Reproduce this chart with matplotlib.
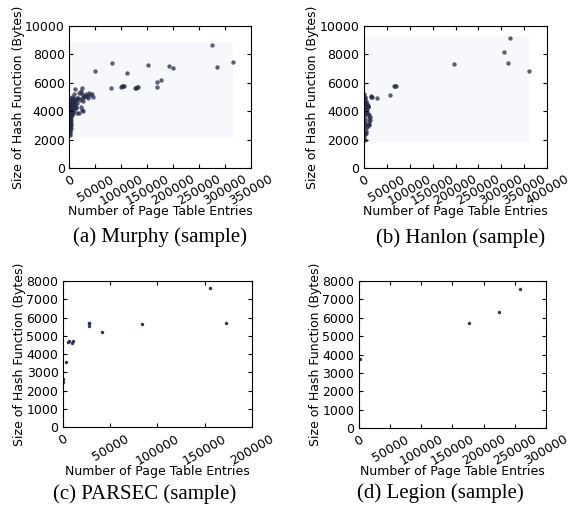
import matplotlib
matplotlib.use('Agg')
import matplotlib.pyplot as plt
import numpy as np
from matplotlib.colors import LinearSegmentedColormap

# Murphy (sample): page table entries vs hash function size
murphy_x = [275000, 285000, 315000, 152000, 192000, 200000, 169000, 176000, 169000, 110000,
            82000, 50000, 80000, 100000, 102000, 104000, 106000, 126000, 129000, 131000, 133000,
            10500, 24000, 23000, 22000, 26000, 25000, 28000, 30000, 32000, 34000, 38000, 40000,
            44000, 46000, 36000, 27000, 22000, 24000, 26000, 18000, 14000, 12000, 16000, 18000,
            20000, 8000, 9000,
            500, 800, 1000, 1200, 1500, 1800, 2000, 2200, 2500, 2800, 3000, 3200, 3500, 600,
            900, 1300, 1600, 1900, 2100, 2400, 2700, 3800, 4200, 4600, 5000, 5500, 6000, 6500,
            7000, 7500, 8000, 4000, 4500, 5200, 3000, 3500, 2500, 700, 1100, 400, 300, 200,
            1400, 6800, 9000, 4800, 3600, 2000, 5800, 7200,
            10000, 11000, 12500, 14000, 15000, 9500, 11500, 13000]
murphy_y = [8650, 7100, 7500, 7220, 7180, 7050, 6080, 6220, 5700, 6710,
            7400, 6850, 5650, 5700, 5750, 5800, 5800, 5650, 5650, 5680, 5700,
            5550, 5600, 5400, 5250, 5150, 4900, 5000, 5100, 5200, 5050, 5250, 5150,
            5200, 5000, 4900, 4700, 4300, 4100, 4000, 3900, 3850, 4250, 4900, 5300,
            4800, 5200, 4950,
            2300, 2600, 2900, 3100, 3300, 3500, 3700, 3900, 4100, 4300, 4500, 4700, 4900, 3000,
            3400, 3800, 4000, 4200, 4400, 4600, 4800, 4200, 4400, 4600, 4300, 4500, 4700, 4400,
            4600, 4800, 4500, 3800, 4000, 3900, 3400, 3600, 3000, 2500, 2700, 3500, 4000, 2800,
            4500, 4200, 4300, 5000, 3200, 2800, 3700, 3900,
            4700, 4500, 4800, 4600, 4900, 4100, 4400, 4300]

# Hanlon (sample)
hanlon_x = [319000, 306000, 315000, 361000, 197000, 66000, 68000, 70000, 57000, 18000,
            16000, 14500, 28000,
            1000, 1500, 2000, 1200, 1800, 2200, 1000, 1500, 2000, 2500, 800, 3000, 4000,
            5000, 6000, 7000, 8000, 9000, 4000, 3500, 6000, 8000, 10000, 11000, 11500, 11000,
            10000, 12000, 8000, 6000, 3000, 3500, 2500, 500, 600, 9000, 7000, 12000, 4000, 2000]
hanlon_y = [9170, 8160, 7390, 6850, 7320, 5790, 5800, 5790, 5160, 5000,
            5050, 4980, 4930,
            2200, 2500, 2800, 3100, 3400, 3700, 4000, 4300, 4600, 4900, 5200, 5000, 4700,
            4600, 4500, 4450, 4400, 4400, 4200, 3900, 3900, 3800, 3700, 3500, 3300, 3100,
            3000, 3600, 3000, 2900, 3200, 2600, 2400, 3500, 4800, 4300, 4100, 3400, 2500, 2000]

# PARSEC (sample)
parsec_x = [156000, 172800, 83600, 41100, 27300, 27300, 27300, 5300, 8800, 10400, 6400, 2500, 0, 0]
parsec_y = [7630, 5720, 5670, 5190, 5690, 5550, 5730, 4650, 4600, 4700, 4720, 3550, 2640, 2500]

# Legion (sample)
legion_x = [258000, 225000, 176000, 1600]
legion_y = [7570, 6300, 5710, 3750]

fig = plt.figure(figsize=(5.71, 5.16), dpi=100)
plt.rcParams['font.family'] = 'DejaVu Sans'

# faint density backdrop, practically uniform over the data extent
bg = LinearSegmentedColormap.from_list('bg', ['#f6f8fb', '#eef1f7'])


def style(ax, xmax, ymax, ystep):
    ax.set_xlim(0, xmax)
    ax.set_ylim(0, ymax)
    ax.set_xticks(np.arange(0, xmax + 1, 50000))
    ax.set_yticks(np.arange(0, ymax + 1, ystep))
    ax.tick_params(direction='in', top=True, right=True, labelsize=9, length=3)
    for lbl in ax.get_xticklabels():
        lbl.set_rotation(30)
        lbl.set_ha('center')
    ax.set_xlabel('Number of Page Table Entries', fontsize=9, labelpad=-2)
    ax.set_ylabel('Size of Hash Function (Bytes)', fontsize=9, labelpad=0)


def backdrop(ax, x, y):
    lo_y = min(y) - 0.03 * (max(y) - min(y))
    hi_y = max(y) + 0.02 * (max(y) - min(y))
    ax.hist2d(x, y, bins=20, range=[[0, max(x)], [lo_y, hi_y]], cmap=bg, vmin=0, vmax=200)


ax_a = fig.add_axes([0.1217, 0.6744, 0.318, 0.2752])
backdrop(ax_a, murphy_x, murphy_y)
ax_a.scatter(murphy_x, murphy_y, s=10, color='#262b48', alpha=0.75, linewidths=0)
style(ax_a, 350000, 10000, 2000)

ax_b = fig.add_axes([0.6375, 0.6744, 0.3205, 0.2752])
backdrop(ax_b, hanlon_x, hanlon_y)
ax_b.scatter(hanlon_x, hanlon_y, s=10, color='#262b48', alpha=0.75, linewidths=0)
style(ax_b, 400000, 10000, 2000)

ax_c = fig.add_axes([0.1109, 0.1719, 0.3298, 0.2835])
ax_c.scatter(parsec_x, parsec_y, s=6, color='#2c3560', linewidths=0)
style(ax_c, 200000, 8000, 1000)

ax_d = fig.add_axes([0.6287, 0.1705, 0.3275, 0.2849])
ax_d.scatter(legion_x, legion_y, s=6, color='#2c3560', linewidths=0)
style(ax_d, 300000, 8000, 1000)

cap = dict(family='Liberation Serif', fontsize=15, ha='center', va='center')
fig.text(0.280, 0.5407, '(a) Murphy (sample)', **cap)
fig.text(0.806, 0.5390, '(b) Hanlon (sample)', **cap)
fig.text(0.254, 0.0426, '(c) PARSEC (sample)', **cap)
fig.text(0.771, 0.0446, '(d) Legion (sample)', **cap)

fig.savefig('out.png', dpi=100)
